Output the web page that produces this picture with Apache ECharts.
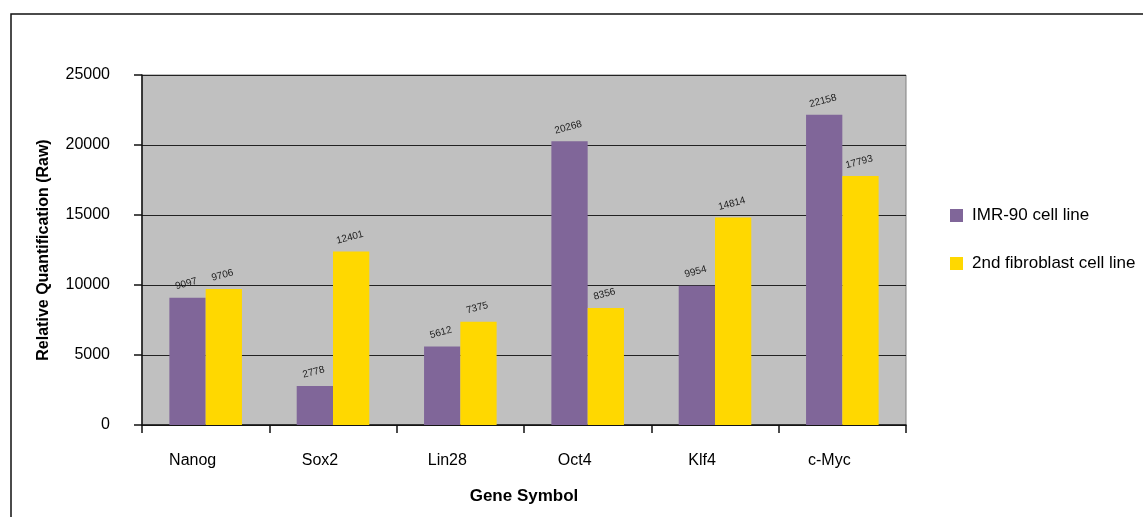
<!DOCTYPE html>
<html>
<head>
<meta charset="utf-8">
<script src="https://cdn.jsdelivr.net/npm/echarts@6/dist/echarts.min.js"></script>
<style>
html,body{margin:0;padding:0;background:#fff;}
#c{width:1143px;height:517px;}
</style>
</head>
<body>
<div id="c"></div>
<script>
const categories = ['Nanog', 'Sox2', 'Lin28', 'Oct4', 'Klf4', 'c-Myc'];
const imr90 = [9097, 2778, 5612, 20268, 9954, 22158];
const fibro2 = [9706, 12401, 7375, 8356, 14814, 17793];
const seriesNames = ['IMR-90 cell line', '2nd fibroblast cell line'];
const yTicks = { min: 0, max: 25000, interval: 5000 };

const FONT = '"Liberation Sans", Arial, sans-serif';
const chart = echarts.init(document.getElementById('c'), null, { renderer: 'canvas' });

const labelCfg = {
  show: true,
  position: 'top',
  distance: 9,
  rotate: 15,
  fontSize: 10,
  fontFamily: FONT,
  color: '#1a1a1a'
};

chart.setOption({
  animation: false,
  backgroundColor: '#ffffff',
  graphic: [{
    type: 'rect',
    shape: { x: 11, y: 14, width: 1400, height: 700 },
    style: { fill: 'none', stroke: '#111', lineWidth: 1.5 },
    z: -1
  }],
  grid: {
    left: 142, top: 75, right: 237, bottom: 92,
    show: true, backgroundColor: '#c0c0c0', borderColor: '#808080', borderWidth: 1
  },
  legend: {
    orient: 'vertical',
    left: 945, top: 202,
    itemWidth: 13, itemHeight: 13,
    itemGap: 31,
    icon: 'rect',
    textStyle: { fontFamily: FONT, fontSize: 17, color: '#000', padding: [0, 0, 0, 4] },
    data: seriesNames
  },
  xAxis: {
    type: 'category',
    data: categories,
    name: 'Gene Symbol',
    nameLocation: 'middle',
    nameGap: 63,
    nameTextStyle: { fontFamily: FONT, fontSize: 17, fontWeight: 'bold', color: '#000' },
    axisLine: { show: true, lineStyle: { color: '#111', width: 1.5 } },
    axisTick: { show: true, length: 8, lineStyle: { color: '#111', width: 1.5 } },
    axisLabel: { fontFamily: FONT, fontSize: 16, color: '#000', margin: 28, padding: [0, 26, 0, 0] }
  },
  yAxis: {
    type: 'value',
    min: yTicks.min, max: yTicks.max, interval: yTicks.interval,
    name: 'Relative Quantification (Raw)',
    nameLocation: 'middle',
    nameGap: 90,
    nameTextStyle: { fontFamily: FONT, fontSize: 16, fontWeight: 'bold', color: '#000' },
    axisLine: { show: true, lineStyle: { color: '#111', width: 1.5 } },
    axisTick: { show: true, length: 8, lineStyle: { color: '#111', width: 1.5 } },
    axisLabel: { fontFamily: FONT, fontSize: 16, color: '#000', margin: 32, formatter: v => String(v) },
    splitLine: { show: true, lineStyle: { color: '#222', width: 1 } }
  },
  series: [
    {
      name: seriesNames[0], type: 'bar', data: imr90,
      itemStyle: { color: '#806699' },
      barGap: '0%', barCategoryGap: '43%',
      label: labelCfg
    },
    {
      name: seriesNames[1], type: 'bar', data: fibro2,
      itemStyle: { color: '#ffd800' },
      barGap: '0%', barCategoryGap: '43%',
      label: labelCfg
    }
  ]
});
</script>
</body>
</html>
